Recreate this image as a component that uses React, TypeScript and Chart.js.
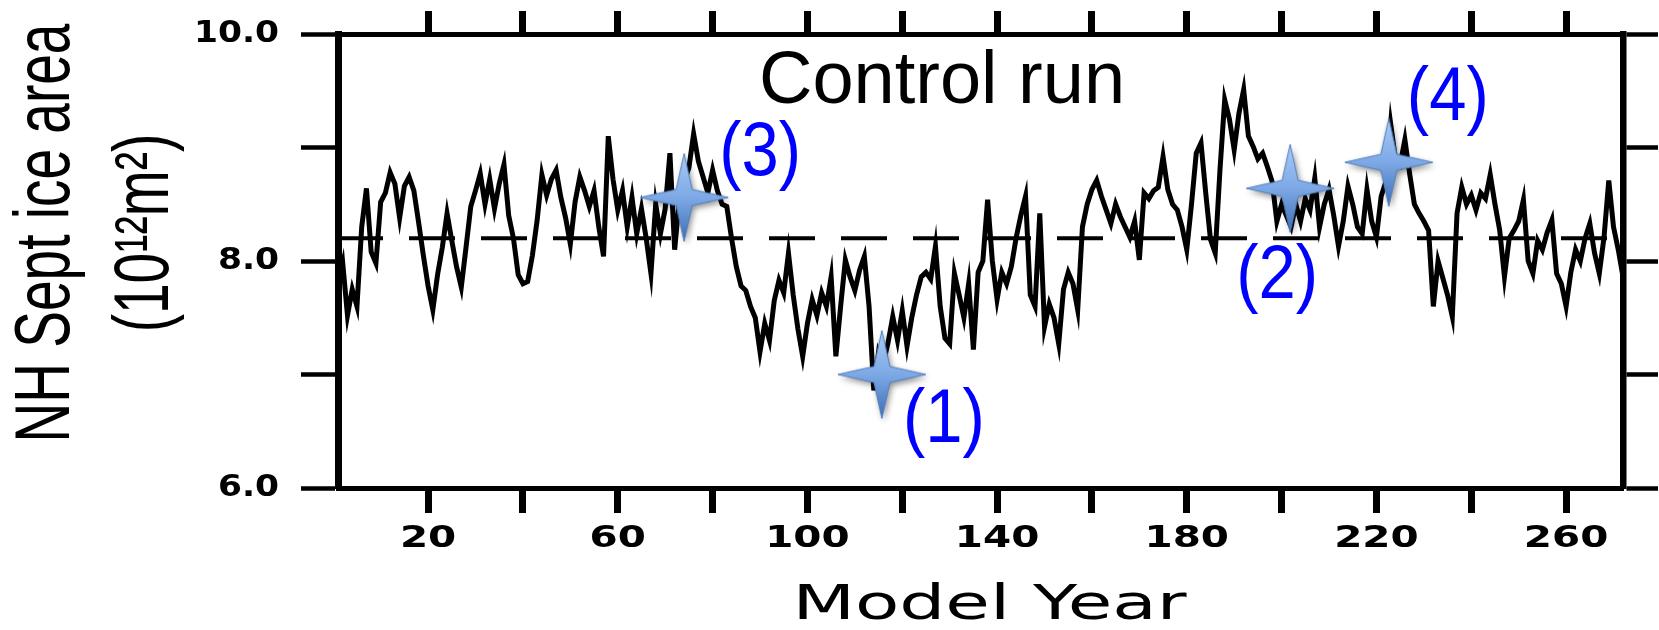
import React, { useEffect, useRef } from "react";
import { Chart, registerables, LinearScale } from "chart.js";

Chart.register(...registerables);

// ---------------- data ----------------
const firstYear = 1;
const lastYear = 272;

// NH September ice area (10^12 m^2), model years 1..272
const iceArea: number[] = [
  7.80, 7.98, 7.52, 7.75, 7.60, 8.30, 8.64, 8.08, 7.98, 8.52,
  8.60, 8.78, 8.68, 8.38, 8.66, 8.74, 8.62, 8.34, 8.05, 7.78,
  7.57, 7.88, 8.12, 8.42, 8.18, 7.95, 7.77, 8.12, 8.48, 8.62,
  8.77, 8.50, 8.72, 8.46, 8.68, 8.85, 8.40, 8.20, 7.88, 7.80,
  7.82, 8.05, 8.36, 8.76, 8.58, 8.72, 8.80, 8.56, 8.38, 8.15,
  8.52, 8.74, 8.62, 8.48, 8.62, 8.30, 8.04, 9.10, 8.72, 8.45,
  8.62, 8.30, 8.56, 8.24, 8.46, 8.20, 7.89, 8.50, 8.24, 8.46,
  8.95, 8.10, 8.55, 8.70, 8.82, 9.12, 8.88, 8.74, 8.60, 8.80,
  8.62, 8.50, 8.48, 8.20, 7.95, 7.78, 7.74, 7.60, 7.50, 7.20,
  7.45, 7.30, 7.65, 7.83, 7.72, 8.07, 7.70, 7.40, 7.16, 7.45,
  7.66, 7.52, 7.72, 7.60, 7.86, 7.16, 7.60, 8.01, 7.86, 7.74,
  7.92, 8.04, 7.60, 6.86, 7.20, 7.10, 7.28, 7.51, 7.30, 7.56,
  7.25, 7.50, 7.70, 7.86, 7.90, 7.84, 8.13, 7.60, 7.32, 7.27,
  7.89, 7.70, 7.50, 7.80, 7.22, 7.90, 8.00, 8.54, 8.00, 7.66,
  7.90, 7.80, 7.95, 8.20, 8.40, 8.57, 7.70, 7.60, 8.42, 7.42,
  7.62, 7.50, 7.27, 7.75, 7.90, 7.80, 7.57, 8.30, 8.50, 8.63,
  8.71, 8.57, 8.45, 8.33, 8.50, 8.39, 8.30, 8.21, 8.35, 8.01,
  8.60, 8.55, 8.62, 8.65, 8.92, 8.63, 8.50, 8.45, 8.30, 8.10,
  8.50, 8.95, 9.04, 8.60, 8.19, 8.07, 8.80, 9.42, 9.25, 8.98,
  9.30, 9.51, 9.10, 9.01, 8.90, 8.95, 8.83, 8.70, 8.35, 8.50,
  8.40, 8.30, 8.50, 8.35, 8.55, 8.45, 8.73, 8.30, 8.50, 8.63,
  8.40, 8.13, 8.35, 8.66, 8.50, 8.30, 8.24, 8.63, 8.35, 8.21,
  8.57, 8.70, 9.21, 8.90, 8.85, 9.07, 8.77, 8.50, 8.42, 8.35,
  8.27, 7.60, 8.00, 7.85, 7.70, 7.51, 8.42, 8.65, 8.50, 8.58,
  8.45, 8.60, 8.55, 8.76, 8.50, 8.27, 7.86, 8.20, 8.27, 8.35,
  8.54, 8.00, 7.89, 8.18, 8.10, 8.25, 8.36, 7.89, 7.80, 7.60,
  7.90, 8.10, 8.00, 8.20, 8.33, 8.07, 7.89, 8.21, 8.71, 8.30,
  8.10, 7.86,
];

const modelYears: number[] = iceArea.map((_, i) => firstYear + i);

const meanLevel = 8.2;

const starLabels = ["(1)", "(2)", "(3)", "(4)"];
const starYears = [115.7, 201.8, 74, 222.6];
const starValues = [7.0, 8.64, 8.56, 8.87];

const panelTitle = "Control run";
const xTitle = "Model Year";
const yTitle = ["NH Sept ice area", "(10\u00B9\u00B2m\u00B2)"];

const yMin = 6;
const yMax = 10;
const xStep = 20;
const yStep = 1;

// ---------------- styling constants ----------------
const X_TITLE_STRETCH = 1.51;
const X_TITLE_SHIFT = 9;
const Y_TITLE_STRETCH = 1.42;
const Y_TITLE_SHIFT = -28;
const TICK_FONT = "bold 30px 'DejaVu Sans', sans-serif";
const X_LABEL_STRETCH = 1.35;
const Y_LABEL_STRETCH = 1.15;
const X_TICK_LEN = 25;
const X_LABEL_GAP = 26; // from tick end to label centre
const Y_TICK_LEN = 37;
const Y_LABEL_GAP = 22; // from tick end to label right edge
const LABEL_OFFSETS = [
  [62, 48],
  [-13, 90],
  [76, -42],
  [59, -62],
];

class StretchXScale extends LinearScale {
  static id = "stretchX";
  drawTitle() {
    const ctx = this.ctx;
    const mid = (this.left + this.right) / 2;
    ctx.save();
    ctx.translate(mid + X_TITLE_SHIFT, 0);
    ctx.scale(X_TITLE_STRETCH, 1);
    ctx.translate(-mid, 0);
    super.drawTitle();
    ctx.restore();
  }
  drawLabels() {
    const ctx = this.ctx;
    const area = this.chart.chartArea;
    const y = area.bottom + X_TICK_LEN + X_LABEL_GAP;
    for (const t of this.ticks as any[]) {
      if (!t.label) continue;
      ctx.save();
      ctx.translate(this.getPixelForValue(t.value), y);
      ctx.scale(X_LABEL_STRETCH, 1);
      ctx.font = TICK_FONT;
      ctx.fillStyle = "#000";
      ctx.textAlign = "center";
      ctx.textBaseline = "middle";
      ctx.fillText(String(t.label), 0, 0);
      ctx.restore();
    }
  }
}

class StretchYScale extends LinearScale {
  static id = "stretchY";
  drawTitle() {
    const ctx = this.ctx;
    ctx.save();
    ctx.translate(0, Y_TITLE_SHIFT);
    ctx.scale(Y_TITLE_STRETCH, 1);
    super.drawTitle();
    ctx.restore();
  }
  drawLabels() {
    const ctx = this.ctx;
    const area = this.chart.chartArea;
    const x = area.left - Y_TICK_LEN - Y_LABEL_GAP;
    for (const t of this.ticks as any[]) {
      if (!t.label) continue;
      ctx.save();
      ctx.translate(x, this.getPixelForValue(t.value));
      ctx.scale(Y_LABEL_STRETCH, 1);
      ctx.font = TICK_FONT;
      ctx.fillStyle = "#000";
      ctx.textAlign = "right";
      ctx.textBaseline = "middle";
      ctx.fillText(String(t.label), 0, 0);
      ctx.restore();
    }
  }
}

Chart.register(StretchXScale as any, StretchYScale as any);

function makeStar(): HTMLCanvasElement {
  const size = 116;
  const c = document.createElement("canvas");
  c.width = size;
  c.height = size;
  const g = c.getContext("2d")!;
  const m = size / 2;
  const R = 44;
  const r = 8;
  const path = () => {
    g.beginPath();
    g.moveTo(m, m - R);
    g.lineTo(m + r, m - r);
    g.lineTo(m + R, m);
    g.lineTo(m + r, m + r);
    g.lineTo(m, m + R);
    g.lineTo(m - r, m + r);
    g.lineTo(m - R, m);
    g.lineTo(m - r, m - r);
    g.closePath();
  };
  g.save();
  g.shadowColor = "rgba(0,0,0,0.45)";
  g.shadowBlur = 6;
  g.shadowOffsetX = 2;
  g.shadowOffsetY = 3;
  path();
  const grad = g.createLinearGradient(m, m - R, m, m + R);
  grad.addColorStop(0, "#a9cbf7");
  grad.addColorStop(0.5, "#7ea9e6");
  grad.addColorStop(1, "#3d6db4");
  g.fillStyle = grad;
  g.fill();
  g.restore();
  path();
  g.lineWidth = 1;
  g.strokeStyle = "#4f7fc0";
  g.stroke();
  return c;
}

const annotationPlugin = {
  id: "annotations",
  afterDatasetsDraw(chart: any) {
    const ctx = chart.ctx as CanvasRenderingContext2D;
    const area = chart.chartArea;
    ctx.save();
    ctx.fillStyle = "#000";
    ctx.font = '74px "Liberation Sans", Arial, sans-serif';
    ctx.textAlign = "left";
    ctx.textBaseline = "alphabetic";
    ctx.fillText(panelTitle, area.left + 421, area.top + 69);
    ctx.restore();

    const meta = chart.getDatasetMeta(0);
    meta.data.forEach((pt: any, i: number) => {
      const [dx, dy] = LABEL_OFFSETS[i];
      ctx.save();
      ctx.translate(pt.x + dx, pt.y + dy);
      ctx.scale(1, 1.12);
      ctx.fillStyle = "#0000ff";
      ctx.font = '67px "Liberation Sans", Arial, sans-serif';
      ctx.textAlign = "center";
      ctx.textBaseline = "alphabetic";
      ctx.fillText(starLabels[i], 0, 0.258 * 67);
      ctx.restore();
    });
  },
};

const tickFontOpt = { family: "'DejaVu Sans', sans-serif", size: 30, weight: "bold" as const };

const zeroPad = (s: any) => {
  s.paddingTop = 0;
  s.paddingBottom = 0;
  s.paddingLeft = 0;
  s.paddingRight = 0;
};

export default function App() {
  const ref = useRef<HTMLCanvasElement | null>(null);

  useEffect(() => {
    if (!ref.current) return;
    const star = makeStar();
    const lineData = iceArea.map((v, i) => ({ x: modelYears[i], y: v }));
    const starData = starYears.map((x, i) => ({ x, y: starValues[i] }));
    const meanData = [
      { x: firstYear, y: meanLevel },
      { x: lastYear, y: meanLevel },
    ];

    const chart = new Chart(ref.current, {
      type: "line",
      data: {
        datasets: [
          {
            label: "events",
            data: starData,
            showLine: false,
            pointStyle: star as any,
            pointRadius: 20,
            order: 0,
            xAxisID: "x",
            yAxisID: "y",
          } as any,
          {
            label: "NH Sept ice area",
            data: lineData,
            borderColor: "#000",
            borderWidth: 5,
            pointRadius: 0,
            tension: 0,
            fill: false,
            order: 1,
            xAxisID: "x",
            yAxisID: "y",
          },
          {
            label: "mean",
            data: meanData,
            borderColor: "#000",
            borderWidth: 4,
            borderDash: [46, 26],
            borderDashOffset: 1,
            pointRadius: 0,
            fill: false,
            order: 2,
            xAxisID: "x",
            yAxisID: "y",
          },
        ],
      },
      options: {
        animation: false,
        responsive: false,
        devicePixelRatio: 1,
        layout: { padding: 0 },
        plugins: {
          legend: { display: false },
          tooltip: { enabled: false },
        },
        scales: {
          x: {
            type: "stretchX" as any,
            position: "bottom",
            min: firstYear,
            max: lastYear,
            border: { display: true, color: "#000", width: 5 },
            grid: {
              display: true,
              drawOnChartArea: false,
              drawTicks: true,
              tickLength: X_TICK_LEN,
              tickWidth: 7,
              tickColor: "#000",
            },
            ticks: {
              stepSize: xStep,
              includeBounds: false,
              autoSkip: false,
              maxRotation: 0,
              padding: 22,
              color: "#000",
              font: tickFontOpt,
              callback: (v: any) => ((Number(v) - 20) % 40 === 0 ? String(v) : ""),
            },
            title: {
              display: true,
              text: xTitle,
              color: "#000",
              font: { family: "'DejaVu Sans', sans-serif", size: 48, lineHeight: 1 },
              padding: { top: 0, bottom: -1 },
            },
            afterFit: (s: any) => {
              s.height = 142;
              zeroPad(s);
            },
          } as any,
          x2: {
            type: "linear",
            position: "top",
            min: firstYear,
            max: lastYear,
            border: { display: true, color: "#000", width: 5 },
            grid: {
              display: true,
              drawOnChartArea: false,
              drawTicks: true,
              tickLength: 23,
              tickWidth: 7,
              tickColor: "#000",
            },
            ticks: {
              stepSize: xStep,
              includeBounds: false,
              autoSkip: false,
              maxRotation: 0,
              padding: 0,
              font: { size: 1 },
              callback: () => "",
            },
            afterFit: (s: any) => {
              s.height = 34;
              zeroPad(s);
            },
          } as any,
          y: {
            type: "stretchY" as any,
            position: "left",
            min: yMin,
            max: yMax,
            border: { display: true, color: "#000", width: 7 },
            grid: {
              display: true,
              drawOnChartArea: false,
              drawTicks: true,
              tickLength: Y_TICK_LEN,
              tickWidth: 4.5,
              tickColor: "#000",
            },
            ticks: {
              stepSize: yStep,
              includeBounds: false,
              padding: 22,
              color: "#000",
              font: tickFontOpt,
              callback: (v: any) => (Number(v) % 2 === 0 ? Number(v).toFixed(1) : ""),
            },
            title: {
              display: true,
              text: yTitle,
              color: "#000",
              font: { family: "'Liberation Sans', Arial, sans-serif", size: 55, lineHeight: 1.26 },
              padding: { top: -1, bottom: 0 },
            },
            afterFit: (s: any) => {
              s.width = 338;
              zeroPad(s);
            },
          } as any,
          y2: {
            type: "linear",
            position: "right",
            min: yMin,
            max: yMax,
            border: { display: true, color: "#000", width: 6.5 },
            grid: {
              display: true,
              drawOnChartArea: false,
              drawTicks: true,
              tickLength: 35,
              tickWidth: 4.5,
              tickColor: "#000",
            },
            ticks: {
              stepSize: yStep,
              padding: 0,
              font: { size: 1 },
              callback: () => "",
            },
            afterFit: (s: any) => {
              s.width = 36;
              zeroPad(s);
            },
          } as any,
        },
      },
      plugins: [annotationPlugin],
    });

    return () => {
      chart.destroy();
    };
  }, []);

  return (
    <div style={{ position: "absolute", left: 0, top: 0, width: 1659, height: 630, background: "#fff" }}>
      <canvas ref={ref} width={1659} height={630} style={{ display: "block", width: 1659, height: 630 }} />
    </div>
  );
}
